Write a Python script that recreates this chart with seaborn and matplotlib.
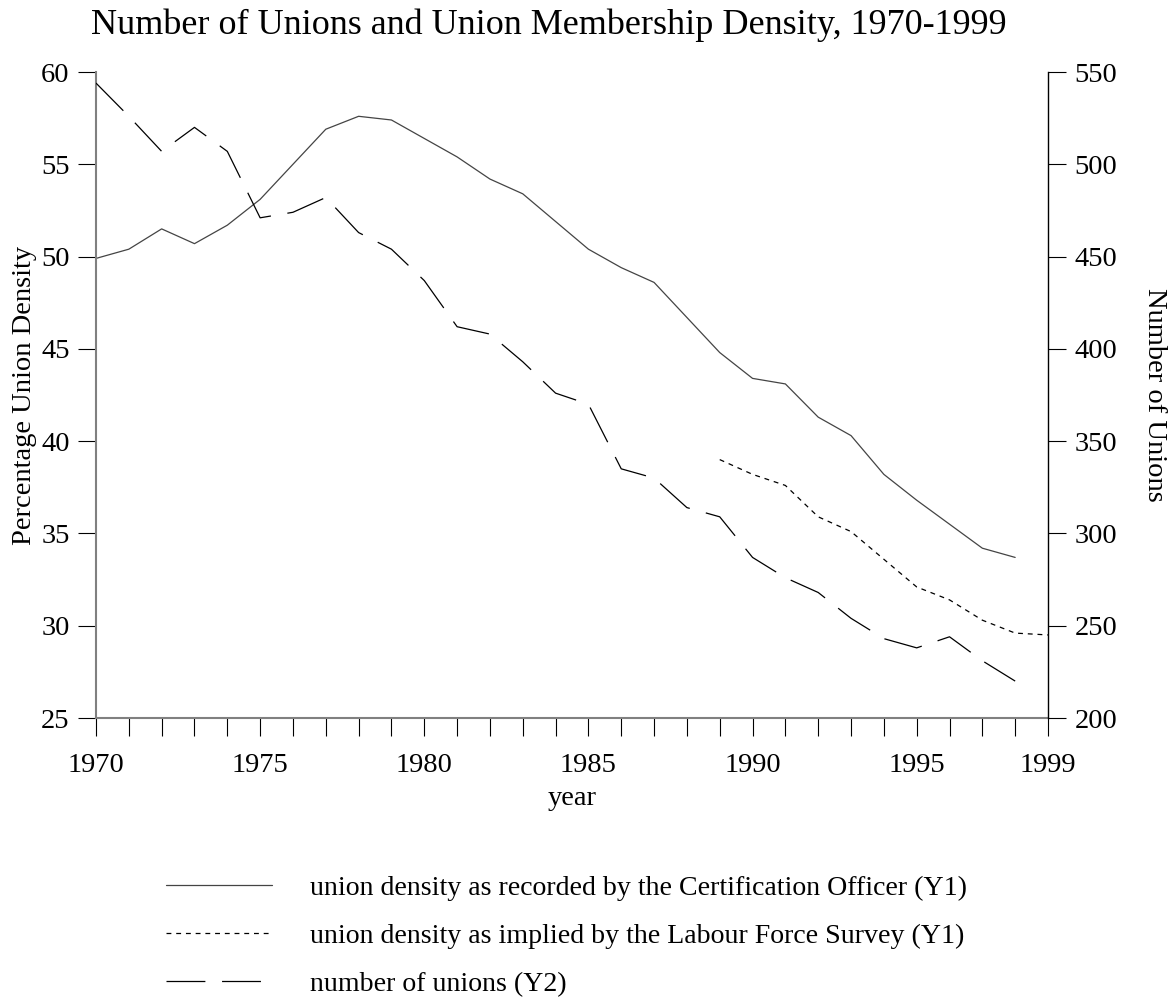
import numpy as np
import pandas as pd
import seaborn as sns
import matplotlib.pyplot as plt

# data
years = list(range(1970, 1999))
co_density = [49.9, 50.4, 51.5, 50.7, 51.7, 53.1, 55.0, 56.9, 57.6, 57.4,
              56.4, 55.4, 54.2, 53.4, 51.9, 50.4, 49.4, 48.6, 46.7, 44.8,
              43.4, 43.1, 41.3, 40.3, 38.2, 36.8, 35.5, 34.2, 33.7]
lfs_years = list(range(1989, 2000))
lfs_density = [39.0, 38.2, 37.6, 35.9, 35.1, 33.6, 32.1, 31.4, 30.3, 29.6, 29.5]
n_unions = [544, 526, 507, 520, 507, 471, 474, 482, 463, 454,
            437, 412, 408, 393, 376, 370, 335, 330, 314, 309,
            287, 276, 268, 254, 243, 238, 244, 231, 220]

major_years = [1970, 1975, 1980, 1985, 1990, 1995, 1999]
labels = ["union density as recorded by the Certification Officer (Y1)",
          "union density as implied by the Labour Force Survey (Y1)",
          "number of unions (Y2)"]

co = pd.DataFrame({"year": years, "density": co_density})
lfs = pd.DataFrame({"year": lfs_years, "density": lfs_density})
un = pd.DataFrame({"year": years, "unions": n_unions})

sns.set_style("white")
plt.rcParams['font.family'] = ['Liberation Serif', 'DejaVu Serif']
plt.rcParams['lines.scale_dashes'] = False
plt.rcParams['text.color'] = 'black'
plt.rcParams['axes.labelcolor'] = 'black'
plt.rcParams['xtick.color'] = 'black'
plt.rcParams['ytick.color'] = 'black'

fig = plt.figure(figsize=(11.73, 9.97), dpi=100)
ax = fig.add_axes([96 / 1173, 1 - 718 / 997, 952 / 1173, 646 / 997])
ax2 = ax.twinx()

sns.lineplot(data=co, x="year", y="density", ax=ax, color="#444444", linewidth=0.9, label=labels[0])
sns.lineplot(data=lfs, x="year", y="density", ax=ax, color="black", linewidth=0.9,
             dashes=False, label=labels[1])
ax.lines[1].set_dashes((3.5, 3.5))
sns.lineplot(data=un, x="year", y="unions", ax=ax2, color="black", linewidth=0.9, label=labels[2])
ax2.lines[0].set_dashes((28, 12))

ax.set_xlim(1970, 1999)
ax.set_ylim(25, 60)
ax2.set_ylim(200, 550)
ax.set_yticks(range(25, 61, 5))
ax2.set_yticks(range(200, 551, 50))
ax.set_xticks(years + [1999])
ax.set_xticklabels([str(y) if y in major_years else "" for y in years + [1999]])

fs = 20.5
ax.tick_params(axis="y", direction="out", length=13, width=0.8, colors="black",
               labelsize=fs, pad=6, left=True)
ax.tick_params(axis="x", direction="out", length=13, width=0.8, colors="black",
               labelsize=fs, pad=12, bottom=True)
ax2.tick_params(axis="y", direction="out", length=13, width=0.8, colors="black",
                labelsize=fs, pad=6, right=True)

for a in (ax, ax2):
    a.spines["top"].set_visible(False)
ax.spines["left"].set_color("#808080")
ax.spines["left"].set_linewidth(1.5)
ax.spines["bottom"].set_color("#808080")
ax.spines["bottom"].set_linewidth(1.5)
ax.spines["right"].set_visible(False)
ax2.spines["left"].set_visible(False)
ax2.spines["bottom"].set_visible(False)
ax2.spines["right"].set_color("black")
ax2.spines["right"].set_linewidth(1.0)

ax.set_xlabel("year", fontsize=fs, labelpad=6, color="black")
ax.set_ylabel("Percentage Union Density", fontsize=fs, labelpad=3, color="black")
ax2.set_ylabel("Number of Unions", fontsize=fs, rotation=270, labelpad=36, color="black")

fig.suptitle("Number of Unions and Union Membership Density, 1970-1999",
             fontsize=26, x=549 / 1173, y=1 - 8 / 997, va="top", color="black")

h1, _ = ax.get_legend_handles_labels()
h2, _ = ax2.get_legend_handles_labels()
ax.get_legend().remove()
ax2.get_legend().remove()
leg = fig.legend(h1 + h2, labels, loc="center left", bbox_to_anchor=(166 / 1173, 1 - 936 / 997),
                 frameon=False, fontsize=20.1, handlelength=3.8, handletextpad=1.35,
                 labelspacing=0.8, borderpad=0, borderaxespad=0)
for t in leg.get_texts():
    t.set_color("black")

fig.savefig("out.png", dpi=100, facecolor="white")
